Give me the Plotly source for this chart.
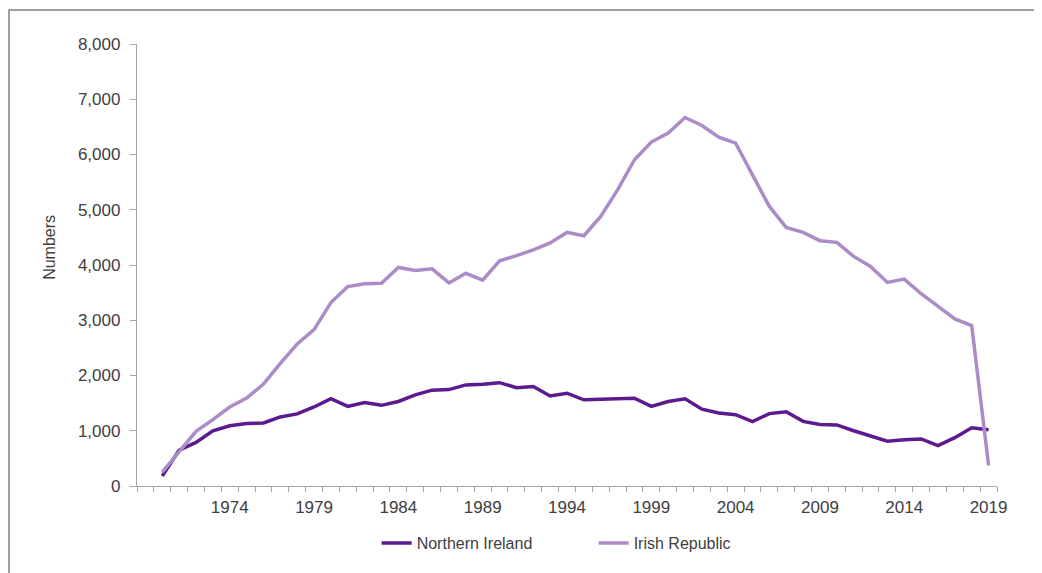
import plotly.graph_objects as go

years = list(range(1970, 2020))

northern_ireland = [180, 650, 790, 1000, 1090, 1130, 1140, 1250, 1305, 1430,
                    1580, 1440, 1510, 1460, 1530, 1650, 1735, 1745, 1830, 1840,
                    1870, 1780, 1800, 1630, 1680, 1560, 1570, 1575, 1590, 1440,
                    1530, 1580, 1390, 1320, 1290, 1165, 1310, 1345, 1170, 1115,
                    1105, 1000, 900, 810, 838, 852, 730, 875, 1055, 1020]

irish_republic = [250, 620, 990, 1200, 1430, 1590, 1845, 2220, 2570, 2830,
                  3320, 3610, 3660, 3670, 3955, 3900, 3930, 3675, 3850, 3725,
                  4075, 4170, 4275, 4400, 4590, 4530, 4880, 5360, 5905, 6225,
                  6390, 6670, 6525, 6315, 6205, 5630, 5060, 4680, 4590, 4440,
                  4410, 4155, 3975, 3685, 3745, 3480, 3250, 3025, 2905, 370]

x_tick_labels = [1974, 1979, 1984, 1989, 1994, 1999, 2004, 2009, 2014, 2019]
y_ticks = [0, 1000, 2000, 3000, 4000, 5000, 6000, 7000, 8000]

FONT = "Liberation Sans"
TXT = "#404040"
AX = "#a6a6a6"

fig = go.Figure()
fig.add_trace(go.Scatter(x=years, y=northern_ireland, mode="lines",
                         name="Northern Ireland",
                         line=dict(color="#5c1a8e", width=3.5)))
fig.add_trace(go.Scatter(x=years, y=irish_republic, mode="lines",
                         name="Irish Republic",
                         line=dict(color="#ab8cc8", width=3.5)))

fig.update_layout(
    width=1034, height=565,
    margin=dict(l=129, r=45, t=36, b=86.5, autoexpand=False),
    paper_bgcolor="white", plot_bgcolor="white",
    font=dict(family=FONT, size=16, color=TXT),
    showlegend=True,
    legend=dict(orientation="h", x=0.531, xanchor="center",
                yref="container", y=0.053, yanchor="middle",
                font=dict(family=FONT, size=16, color=TXT),
                entrywidth=172, traceorder="normal"),
    xaxis=dict(range=[1968.5, 2019.5], tickmode="array", tickvals=x_tick_labels,
               ticktext=[str(v) for v in x_tick_labels],
               ticks="outside", ticklen=5, tickcolor="rgba(0,0,0,0)",
               showline=True, linecolor=AX, linewidth=1.3,
               showgrid=False, zeroline=False,
               tickfont=dict(family=FONT, size=17, color=TXT),
               minor=dict(ticks="outside", tick0=1968.5, dtick=1, ticklen=5,
                          tickcolor=AX, tickwidth=1.3, showgrid=False)),
    yaxis=dict(range=[0, 8000], tickmode="array", tickvals=y_ticks,
               tickformat=",", ticks="outside", ticklen=6, tickcolor=AX,
               tickwidth=1.3, showline=True, linecolor=AX, linewidth=1.3,
               showgrid=False, zeroline=False, ticklabelstandoff=6,
               tickfont=dict(family=FONT, size=17, color=TXT)),
)

fig.add_annotation(text="Numbers", textangle=-90, xref="paper", yref="paper",
                   x=-0.1012, y=0.541, xanchor="center", yanchor="middle",
                   showarrow=False, font=dict(family=FONT, size=16, color=TXT))

fig.add_shape(type="rect", xref="paper", yref="paper",
              x0=-0.1488, x1=1.2, y0=-0.4, y1=1.077,
              line=dict(color="#808080", width=1.5), fillcolor="rgba(0,0,0,0)",
              layer="above")

fig.write_html("out.html")
